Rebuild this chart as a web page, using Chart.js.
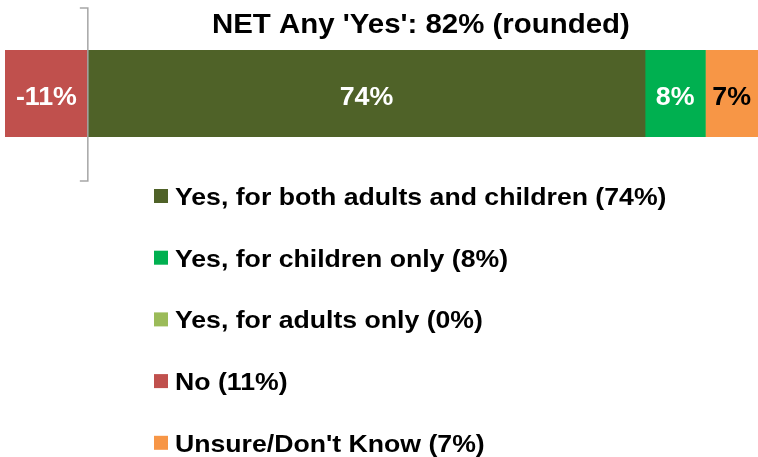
<!DOCTYPE html>
<html>
<head>
<meta charset="utf-8">
<script src="https://cdn.jsdelivr.net/npm/chart.js@4.4.1/dist/chart.umd.min.js"></script>
<style>
  html, body { margin: 0; padding: 0; background: #fff; }
  #wrap { width: 758px; height: 457px; }
</style>
</head>
<body>
<div id="wrap"><canvas id="chart"></canvas></div>
<script>
const categories   = ['All'];
const seriesLabels = ['Yes, for both adults and children', 'Yes, for children only', 'Yes, for adults only', 'No', "Unsure/Don't Know"];
const seriesValues = [74, 8, 0, -11, 7];
const seriesColors = ['#4F6228', '#00B050', '#9BBB59', '#C0504D', '#F79646'];
const labelColors  = ['#FFFFFF', '#FFFFFF', '#FFFFFF', '#FFFFFF', '#000000'];
const axisMin = -11;
const axisMax = 89;

// NET yes = every "Yes" segment added up
const netYes = seriesValues.slice(0, 3).reduce((a, b) => a + b, 0);
const titleText = "NET Any 'Yes': " + netYes + '% (rounded)';

const FONT = "'Liberation Sans', Arial, sans-serif";

// text drawn a little wider than the font's own metrics
function wideText(ctx, text, x, y, sx) {
    ctx.save();
    ctx.translate(x, y);
    ctx.scale(sx, 1);
    ctx.fillText(text, 0, 0);
    ctx.restore();
}

const overlay = {
    id: 'overlay',
    afterDatasetsDraw(chart) {
        const ctx  = chart.ctx;
        const area = chart.chartArea;
        const zero = chart.scales.x.getPixelForValue(0);
        ctx.save();

        // values inside the segments
        ctx.font = 'bold 26px ' + FONT;
        ctx.textAlign = 'center';
        ctx.textBaseline = 'alphabetic';
        chart.data.datasets.forEach((ds, i) => {
            const v = ds.data[0];
            if (!v) return;
            const bar = chart.getDatasetMeta(i).data[0];
            ctx.fillStyle = labelColors[i];
            wideText(ctx, v + '%', (bar.x + bar.base) / 2, bar.y + 11.5, 1.03);
        });

        // bracket on the zero line
        const top = area.top - 42, bottom = area.bottom + 44;
        ctx.strokeStyle = '#A6A6A6';
        ctx.lineWidth = 1.5;
        ctx.beginPath();
        ctx.moveTo(zero - 8, top);
        ctx.lineTo(zero, top);
        ctx.lineTo(zero, bottom);
        ctx.lineTo(zero - 8, bottom);
        ctx.stroke();

        // title over the positive side
        ctx.fillStyle = '#000000';
        ctx.font = 'bold 27px ' + FONT;
        wideText(ctx, titleText, (zero + area.right) / 2 - 2, 33, 1.09);

        // legend, one entry per row
        ctx.font = 'bold 24px ' + FONT;
        ctx.textAlign = 'left';
        chart.data.datasets.forEach((ds, i) => {
            const y = 205 + i * 61.7;
            ctx.fillStyle = ds.backgroundColor;
            ctx.fillRect(154, y - 16, 14, 14);
            ctx.fillStyle = '#000000';
            wideText(ctx, ds.label + ' (' + Math.abs(ds.data[0]) + '%)', 175, y, 1.11);
        });

        ctx.restore();
    }
};

new Chart(document.getElementById('chart'), {
    type: 'bar',
    data: {
        labels: categories,
        datasets: seriesLabels.map((label, i) => ({
            label: label,
            data: [seriesValues[i]],
            backgroundColor: seriesColors[i],
            borderWidth: 0,
            barPercentage: 1,
            categoryPercentage: 1
        }))
    },
    options: {
        indexAxis: 'y',
        responsive: true,
        maintainAspectRatio: false,
        animation: false,
        layout: { padding: { top: 50, left: 5, right: 0, bottom: 320 } },
        plugins: {
            legend: { display: false },
            tooltip: { enabled: false }
        },
        scales: {
            x: { stacked: true, min: axisMin, max: axisMax, display: false },
            y: { stacked: true, display: false }
        }
    },
    plugins: [overlay]
});
</script>
</body>
</html>
